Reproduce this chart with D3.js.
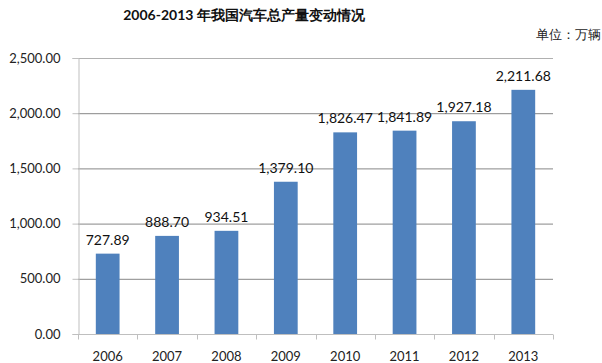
<!DOCTYPE html>
<html>
<head>
<meta charset="utf-8">
<script src="https://cdn.jsdelivr.net/npm/d3@7"></script>
<style>
  body { margin: 0; background: #fff; }
  text { font-family: Lato, "Open Sans", sans-serif; }
</style>
</head>
<body>
<script>
const years = ["2006", "2007", "2008", "2009", "2010", "2011", "2012", "2013"];
const output = [727.89, 888.7, 934.51, 1379.1, 1826.47, 1841.89, 1927.18, 2211.68];
const yTicks = [0, 500, 1000, 1500, 2000, 2500];

const width = 602;
const height = 363;
const plotLeft = 78, plotRight = 553, plotTop = 58, plotBottom = 334;

const svg = d3.select("body").append("svg")
  .attr("width", width)
  .attr("height", height);

const x = d3.scaleBand().domain(years).range([plotLeft, plotRight]).paddingInner(0.6).paddingOuter(0.3);
const xOuter = d3.scaleBand().domain(years).range([plotLeft, plotRight]);
const y = d3.scaleLinear().domain([0, 2500]).range([plotBottom, plotTop]);
const fmt = d3.format(",.2f");

// grid lines
svg.append("g").selectAll("line")
  .data(yTicks.filter(d => d > 0))
  .enter().append("line")
  .attr("x1", plotLeft).attr("x2", plotRight)
  .attr("y1", d => y(d) + 0.5).attr("y2", d => y(d) + 0.5)
  .attr("stroke", d => d === 2500 ? "#b0b0b0" : "#878787");

// y axis
const yAxis = d3.axisLeft(y).tickValues(yTicks).tickFormat(fmt).tickSize(6).tickPadding(12);
const gy = svg.append("g").attr("transform", `translate(${plotLeft + 0.5},0)`).call(yAxis);
gy.select(".domain").attr("stroke", "#bfbfbf");
gy.selectAll(".tick line").attr("stroke", "#bfbfbf");
gy.selectAll(".tick text").attr("font-size", 13).attr("fill", "#222")
  .attr("font-family", "Lato, sans-serif");

// x axis
const gx = svg.append("g").attr("transform", `translate(0,${plotBottom + 0.5})`);
gx.append("line").attr("x1", plotLeft).attr("x2", plotRight).attr("stroke", "#bfbfbf");
gx.selectAll(".xt")
  .data(years.concat(["end"]))
  .enter().append("line")
  .attr("x1", (d, i) => Math.round(plotLeft + i * xOuter.step()) + 0.5)
  .attr("x2", (d, i) => Math.round(plotLeft + i * xOuter.step()) + 0.5)
  .attr("y1", 0).attr("y2", 5)
  .attr("stroke", "#bfbfbf");
gx.selectAll(".xl")
  .data(years)
  .enter().append("text")
  .attr("x", d => x(d) + x.bandwidth() / 2)
  .attr("y", 26)
  .attr("text-anchor", "middle")
  .attr("font-size", 13)
  .attr("fill", "#222")
  .text(d => d);

// bars
svg.append("g").selectAll("rect")
  .data(output)
  .enter().append("rect")
  .attr("x", (d, i) => x(years[i]))
  .attr("y", d => y(d))
  .attr("width", x.bandwidth())
  .attr("height", d => plotBottom - y(d))
  .attr("fill", "#4f81bd");

// value labels
svg.append("g").selectAll("text")
  .data(output)
  .enter().append("text")
  .attr("x", (d, i) => x(years[i]) + x.bandwidth() / 2)
  .attr("y", d => y(d) - 9)
  .attr("text-anchor", "middle")
  .attr("font-size", 14)
  .attr("fill", "#111")
  .text(d => fmt(d));

// title
svg.append("text")
  .attr("x", 244).attr("y", 20)
  .attr("text-anchor", "middle")
  .attr("font-size", 14)
  .attr("font-weight", "bold")
  .attr("font-family", "'Noto Sans CJK SC', sans-serif")
  .attr("fill", "#111")
  .text("2006-2013 年我国汽车总产量变动情况");

svg.append("text")
  .attr("x", 601).attr("y", 39)
  .attr("text-anchor", "end")
  .attr("font-size", 13)
  .attr("font-family", "'Noto Sans CJK SC', sans-serif")
  .attr("fill", "#222")
  .text("单位：万辆");
</script>
</body>
</html>
